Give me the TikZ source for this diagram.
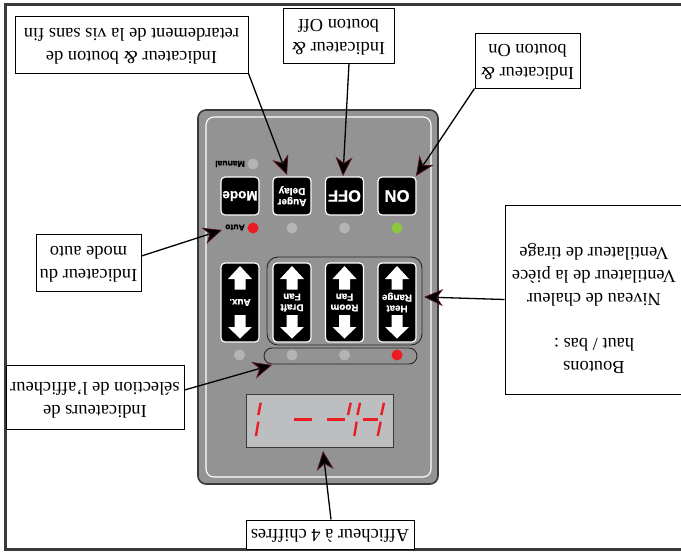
\documentclass[tikz,border=0pt]{standalone}
\usepackage{fontspec}
\setmainfont{Liberation Serif}
\setsansfont{Liberation Sans}
\newfontfamily\heavyfont{Liberation Sans Bold}[FakeBold=0.7]
\usetikzlibrary{arrows.meta,calc}
\definecolor{panelgray}{HTML}{939393}
\definecolor{paneledge}{HTML}{3A3A3A}
\definecolor{ledoff}{HTML}{B4B4B4}
\definecolor{ledred}{HTML}{ED1C24}
\definecolor{ledgreen}{HTML}{8DC63F}
\definecolor{lcd}{HTML}{BCBEC0}
\definecolor{tipedge}{HTML}{5A1420}
\tikzset{
  x=1pt,y=-1pt,
  callout/.style={draw=black,line width=1pt,fill=white,inner sep=0pt},
  callouttext/.style={rotate=180,align=center,inner sep=0pt,
    font=\fontsize{18.4}{22.8}\selectfont},
  keybtn/.style={draw=white,fill=black,line width=1.2pt,rounded corners=4pt,minimum width=38pt,inner sep=0pt,
    rotate=180,text=white,align=center,font=\heavyfont},
  btnsmall/.style={keybtn,minimum height=38pt},
  btntall/.style={keybtn,minimum height=79pt,font=\heavyfont\fontsize{9.8}{10.8}\selectfont},
  led/.style={circle,minimum size=11pt,inner sep=0pt},
  ledlabel/.style={rotate=180,inner sep=0pt,text=black,font=\heavyfont\fontsize{8.6}{10}\selectfont},
  pointer/.style={draw=black,line width=1.3pt,
    -{Stealth[length=19pt,width=17pt,inset=6pt,fill=black,color=tipedge,line width=0.7pt]}},
  seg/.style={draw=ledred,line width=2.4pt},
  whitearrow/.style={fill=white,draw=none},
}
\begin{document}
\begin{tikzpicture}
\path[use as bounding box,fill=white] (0,0) rectangle (681,552);
\clip (0,0) rectangle (681,552);
% frame
\draw[draw=paneledge,line width=3pt] (5.5,4.5) rectangle (690,549.5);
% panel
\draw[fill=panelgray,draw=paneledge,line width=1.6pt,rounded corners=8pt] (198,110) rectangle (438,484);
\draw[draw=white,line width=1.1pt,rounded corners=8pt] (206,117) rectangle (431,477);
% groups
\draw[draw=black!85,line width=0.9pt,rounded corners=11pt] (267,257) rectangle (422,345);
\draw[draw=black!85,line width=0.9pt,rounded corners=8pt] (264,348) rectangle (417,364);
% top row of buttons
\node[btnsmall,font=\heavyfont\fontsize{13.5}{15}\selectfont] (mode) at (240,196) {Mode};
\node[btnsmall,font=\heavyfont\fontsize{10}{11}\selectfont] (auger) at (292,196) {Auger\\Delay};
\node[btnsmall,font=\heavyfont\fontsize{16.4}{18}\selectfont] (off) at (344.5,196) {OFF};
\node[btnsmall,font=\heavyfont\fontsize{16.7}{18}\selectfont] (on) at (397,196) {ON};
% tall buttons
\node[btntall] (aux) at (240,302.5) {Aux.};
\node[btntall] (draft) at (292,302.5) {Draft\\Fan};
\node[btntall] (room) at (344.5,302.5) {Room\\Fan};
\node[btntall] (heat) at (397,302.5) {Heat\\Range};
\foreach \cx in {240,292,344.5,397}{
  \fill[whitearrow] (\cx,266) -- (\cx+12,279) -- (\cx+5.5,279) -- (\cx+5.5,289.5) -- (\cx-5.5,289.5) -- (\cx-5.5,279) -- (\cx-12,279) -- cycle;
  \fill[whitearrow] (\cx,338.5) -- (\cx+12,327) -- (\cx+5.5,327) -- (\cx+5.5,315) -- (\cx-5.5,315) -- (\cx-5.5,327) -- (\cx-12,327) -- cycle;
}
% LEDs
\node[led,fill=ledoff] (ledmanual) at (253,164) {};
\node[ledlabel] (lblmanual) at (230,164) {Manual};
\node[led,fill=ledred] (ledauto) at (253,228) {};
\node[ledlabel] (lblauto) at (235,227.5) {Auto};
\node[led,fill=ledoff] (ledauger) at (292,228) {};
\node[led,fill=ledoff] (ledoff) at (344.5,228) {};
\node[led,fill=ledgreen] (ledon) at (397,228) {};
\node[led,fill=ledoff] (ledaux) at (239.5,355) {};
\node[led,fill=ledoff] (leddraft) at (292,355) {};
\node[led,fill=ledoff] (ledroom) at (344.5,355) {};
\node[led,fill=ledred] (ledheat) at (397,355) {};
% display
\draw[fill=lcd,draw=paneledge,line width=1pt] (246,394) rectangle (393,447);
\draw[seg] (260.7,402.7) -- (258.3,415);
\draw[seg] (258.3,421.7) -- (256,436);
\draw[seg] (294.3,419.3) -- (311.7,419.3);
\draw[seg] (327.3,419.3) -- (345,419.3);
\draw[seg] (350.7,402.7) -- (348,415);
\draw[seg] (360,402.7) -- (357.5,415);
\draw[seg] (356.7,421.7) -- (354.3,436);
\draw[seg] (363.3,419.3) -- (378.3,419.3);
\draw[seg] (384,402.7) -- (381.3,415);
\draw[seg] (380.7,421.7) -- (377.7,436);
% callout boxes (rotate=180 is kept out of them; anchors are as seen on the page)
\node[callout,minimum width=233pt,minimum height=57pt] (boxdelay) at (131.5,44.5) {};
\node[callout,minimum width=111pt,minimum height=55pt] (boxoff) at (338.5,35.5) {};
\node[callout,minimum width=105pt,minimum height=55pt] (boxon) at (527.5,60.5) {};
\node[callout,minimum width=178pt,minimum height=189pt] (boxheat) at (594,299.5) {};
\node[callout,minimum width=105pt,minimum height=57pt] (boxauto) at (88.5,262.5) {};
\node[callout,minimum width=178pt,minimum height=64pt] (boxsel) at (95,397) {};
\node[callout,minimum width=168pt,minimum height=29pt] (boxdisp) at (330,534.5) {};
% callout texts
\node[callouttext] (txtdelay) at (131.5,46.5) {Indicateur {\itshape\&} bouton de\\retardement de la vis sans fin};
\node[callouttext] (txtoff) at (338.5,37.5) {Indicateur {\itshape\&}\\bouton Off};
\node[callouttext] (txton) at (527.5,62) {Indicateur {\itshape\&}\\bouton On};
\node[callouttext] (txtheat) at (594,308.5) {Boutons\\haut / bas :\\[22pt]Niveau de chaleur\\Ventilateur de la pièce\\Ventilateur de tirage};
\node[callouttext] (txtauto) at (88.5,264) {Indicateur du\\mode auto};
\node[callouttext] (txtsel) at (95,400) {Indicateurs de\\sélection de l'afficheur};
\node[callouttext] (txtdisp) at (330,535.5) {Afficheur à 4 chiffres};
% arrow targets
\coordinate (tipdelay) at (287,175);
\coordinate (tipoff) at (343,176);
\coordinate (tipon) at (416,176);
\coordinate (tipauto) at (222,230);
\coordinate (tipheat) at (424,297);
\coordinate (tipsel) at (272,365);
\coordinate (tipdisp) at (323,451);
% connectors
\draw[pointer] (boxdelay.south east) -- (tipdelay);
\draw[pointer] ([xshift=10.5pt]boxoff.south) -- (tipoff);
\draw[pointer] (boxon.south west) -- (tipon);
\draw[pointer] ([yshift=6.5pt]boxauto.east) -- (tipauto);
\draw[pointer] (boxheat.west) -- (tipheat);
\draw[pointer] ([yshift=7pt]boxsel.east) -- (tipsel);
\draw[pointer] ([xshift=1pt]boxdisp.north) -- (tipdisp);
\end{tikzpicture}
\end{document}
